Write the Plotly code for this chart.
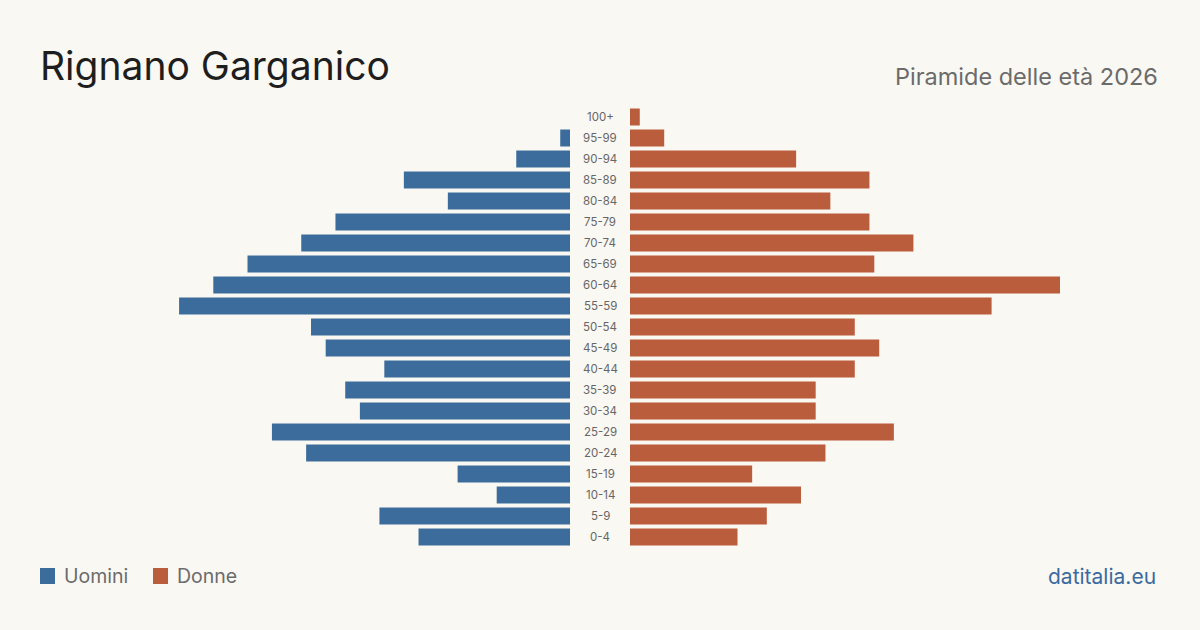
import plotly.graph_objects as go

# Age classes (bottom to top)
age_groups = ["0-4", "5-9", "10-14", "15-19", "20-24", "25-29", "30-34", "35-39",
              "40-44", "45-49", "50-54", "55-59", "60-64", "65-69", "70-74",
              "75-79", "80-84", "85-89", "90-94", "95-99", "100+"]
uomini = [31, 39, 15, 23, 54, 61, 43, 46, 38, 50, 53, 80, 73, 66, 55, 48, 25, 34, 11, 2, 0]
donne = [22, 28, 35, 25, 40, 54, 38, 38, 46, 51, 46, 74, 88, 50, 58, 49, 41, 49, 34, 7, 2]

W, H = 1200, 630
BG = "#faf8f3"
BLUE = "#3c6c9c"
ORANGE = "#b95d3d"

max_val = max(max(uomini), max(donne))
half_span = (570 / 430) * max_val  # same scale both sides

fig = go.Figure()
fig.add_trace(go.Bar(x=uomini, y=age_groups, orientation="h", marker_color=BLUE,
                     marker_line_width=0, xaxis="x", yaxis="y", name="Uomini",
                     showlegend=False, hoverinfo="x+y"))
fig.add_trace(go.Bar(x=donne, y=age_groups, orientation="h", marker_color=ORANGE,
                     marker_line_width=0, xaxis="x2", yaxis="y", name="Donne",
                     showlegend=False, hoverinfo="x+y"))

axis_common = dict(showgrid=False, zeroline=False, showticklabels=False, showline=False, fixedrange=True)
fig.update_layout(
    width=W, height=H,
    paper_bgcolor=BG, plot_bgcolor=BG,
    margin=dict(l=0, r=0, t=0, b=0),
    bargap=4 / 21,
    xaxis=dict(domain=[0, 570 / W], range=[half_span, 0], anchor="y", **axis_common),
    xaxis2=dict(domain=[630 / W, 1], range=[0, half_span], anchor="y", **axis_common),
    yaxis=dict(domain=[(H - 547.5) / H, (H - 106.5) / H], range=[-0.5, len(age_groups) - 0.5],
               type="category", categoryorder="array", categoryarray=age_groups,
               showgrid=False, zeroline=False, showticklabels=False, showline=False, fixedrange=True),
    font=dict(family="Inter, 'Noto Sans', sans-serif"),
)

annotations = []
for g in age_groups:
    annotations.append(dict(x=600 / W, xref="paper", y=g, yref="y", text=g, showarrow=False,
                            xanchor="center", yanchor="middle",
                            font=dict(size=11.5, color="#666666")))

annotations += [
    dict(x=38 / W, y=1 - 66 / H, xref="paper", yref="paper", text="Rignano Garganico",
         showarrow=False, xanchor="left", yanchor="middle",
         font=dict(size=39, color="#1e1e1e")),
    dict(x=1160 / W, y=1 - 76 / H, xref="paper", yref="paper", text="Piramide delle età 2026",
         showarrow=False, xanchor="right", yanchor="middle",
         font=dict(size=23.5, color="#6b6b6b")),
    dict(x=62 / W, y=1 - 576 / H, xref="paper", yref="paper", text="Uomini",
         showarrow=False, xanchor="left", yanchor="middle",
         font=dict(size=19.5, color="#6b6b6b")),
    dict(x=175 / W, y=1 - 576 / H, xref="paper", yref="paper", text="Donne",
         showarrow=False, xanchor="left", yanchor="middle",
         font=dict(size=19.5, color="#6b6b6b")),
    dict(x=1158 / W, y=1 - 576 / H, xref="paper", yref="paper", text="datitalia.eu",
         showarrow=False, xanchor="right", yanchor="middle",
         font=dict(size=21, color="#3a6aa0")),
]

shapes = [
    dict(type="rect", xref="paper", yref="paper", x0=40 / W, x1=55 / W,
         y0=1 - 584 / H, y1=1 - 568 / H, fillcolor=BLUE, line_width=0),
    dict(type="rect", xref="paper", yref="paper", x0=153 / W, x1=168 / W,
         y0=1 - 584 / H, y1=1 - 568 / H, fillcolor=ORANGE, line_width=0),
]

fig.update_layout(annotations=annotations, shapes=shapes)
fig.write_html("out.html")
